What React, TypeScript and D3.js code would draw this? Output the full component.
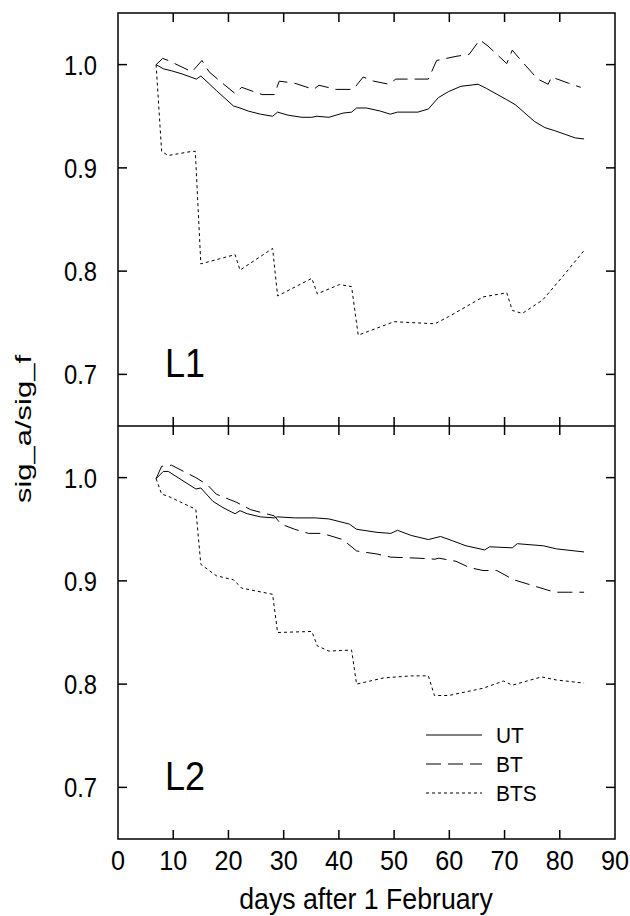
import React from "react";
import * as d3 from "d3";

type P = [number, number];
const l1UT: P[] = [[6.9,1.0],[8.2,0.996],[9.7,0.994],[11.6,0.991],[14.2,0.986],[15,0.989],[17.8,0.975],[20.9,0.960],[22.1,0.958],[23.6,0.955],[25.8,0.952],[28,0.950],[28.9,0.954],[30.8,0.951],[33.3,0.949],[35.1,0.949],[36,0.950],[38.2,0.949],[40.7,0.953],[42.3,0.954],[43.2,0.958],[45,0.958],[47.5,0.955],[49.3,0.952],[50.6,0.954],[54.3,0.954],[56.2,0.957],[58,0.968],[59.9,0.974],[62.1,0.979],[65.2,0.981],[66.7,0.977],[70.4,0.966],[72,0.961],[75.4,0.945],[77.3,0.939],[79.1,0.936],[82.8,0.929],[84.4,0.928]];
const l1BT: P[] = [[6.9,1.0],[8.1,1.006],[9.1,1.004],[13.4,0.993],[15.2,1.004],[16.5,0.993],[18.7,0.983],[21.2,0.972],[22.4,0.978],[26.1,0.971],[28.3,0.971],[29.2,0.984],[32,0.982],[35.4,0.976],[36.4,0.980],[39.5,0.976],[42.6,0.976],[44.4,0.988],[46.3,0.984],[49.1,0.981],[50.3,0.986],[52.5,0.986],[56.2,0.986],[57.7,1.004],[61.2,1.008],[63.6,1.010],[65.5,1.024],[67,1.018],[70.4,1.001],[71.4,1.014],[73,1.004],[76,0.986],[77.9,0.981],[78.5,0.988],[81.6,0.982],[83.8,0.978]];
const l1BTS: P[] = [[6.9,1.0],[7.9,0.916],[9.1,0.912],[13.4,0.916],[14,0.916],[15,0.807],[21.2,0.816],[22.1,0.801],[28,0.822],[28.9,0.776],[35.1,0.793],[36.1,0.778],[40.1,0.787],[42.3,0.785],[43.5,0.738],[50,0.751],[57.4,0.749],[59.9,0.756],[66.1,0.775],[70.4,0.779],[71.4,0.762],[73.2,0.759],[76.9,0.772],[80.4,0.794],[84.4,0.820]];
const l2UT: P[] = [[6.9,0.999],[8.2,1.006],[9.1,1.006],[14.1,0.989],[15,0.990],[17.2,0.977],[19,0.971],[21.2,0.965],[22.1,0.968],[23.4,0.965],[25.8,0.962],[28.3,0.961],[28.9,0.962],[32,0.961],[35.7,0.961],[38.2,0.960],[41.9,0.955],[43.2,0.950],[46.9,0.947],[49.4,0.946],[50.6,0.949],[53.1,0.944],[56.2,0.940],[58.4,0.943],[60.5,0.939],[63,0.934],[66.4,0.930],[67.3,0.933],[71.4,0.932],[72.3,0.936],[77,0.934],[79.4,0.931],[84.4,0.928]];
const l2BT: P[] = [[6.9,0.999],[7.9,1.011],[9.7,1.012],[14.1,1.0],[16.2,0.993],[17.8,0.984],[21.5,0.976],[24,0.969],[26.1,0.966],[28.3,0.963],[29.5,0.955],[32,0.950],[34.5,0.946],[37,0.946],[40.7,0.940],[43.2,0.929],[46.9,0.926],[49.4,0.923],[54.3,0.922],[57.4,0.921],[58.1,0.922],[61.2,0.919],[63.6,0.913],[66.1,0.910],[68.6,0.910],[71.7,0.901],[75.4,0.895],[79.1,0.889],[81.6,0.889],[84.4,0.889]];
const l2BTS: P[] = [[6.9,0.999],[7.9,0.984],[9.1,0.982],[13.8,0.970],[14.1,0.969],[15,0.916],[17.8,0.905],[20.9,0.901],[22.4,0.893],[28,0.887],[28.9,0.850],[35.1,0.851],[36.1,0.837],[38.2,0.832],[42.3,0.833],[43.2,0.800],[48.1,0.806],[53.1,0.808],[56.2,0.808],[57.3,0.789],[59.9,0.789],[66.1,0.796],[69.8,0.803],[71.4,0.799],[76.7,0.807],[79.4,0.804],[84.4,0.801]];

const xTicks = [0,10,20,30,40,50,60,70,80,90];
const yTicks = [0.7,0.8,0.9,1.0];
const seriesNames = ["UT","BT","BTS"];
const dashes = ["none","15,7","3,3"];

const X0 = 118, X1 = 615, Y0 = 13, YM = 426, Y1 = 839;
const x = d3.scaleLinear().domain([0,90]).range([X0,X1]);
const yTop = d3.scaleLinear().domain([0.65,1.05]).range([YM,Y0]);
const yBot = d3.scaleLinear().domain([0.65,1.05]).range([Y1,YM]);
const font = "Liberation Sans, Arial, sans-serif";

function T({ x, y, s, size, anchor = "start", sx = 0.88 }: { x: number; y: number; s: string; size: number; anchor?: string; sx?: number }) {
  return (
    <text transform={`translate(${x},${y}) scale(${sx},1)`} textAnchor={anchor as any} fontSize={size} fontFamily={font}>{s}</text>
  );
}

function Panel({ y, data, label }: { y: d3.ScaleLinear<number, number>; data: P[][]; label: string }) {
  const line = d3.line<P>().x(d => x(d[0])).y(d => y(d[1]));
  const [y1, y0] = y.range();
  const tl = 9;
  return (
    <g>
      {xTicks.slice(1, -1).map(t => (
        <g key={t}>
          <line x1={x(t)} x2={x(t)} y1={y0} y2={y0 + tl} stroke="#000" strokeWidth={1.5} />
          <line x1={x(t)} x2={x(t)} y1={y1} y2={y1 - tl} stroke="#000" strokeWidth={1.5} />
        </g>
      ))}
      {yTicks.map(t => (
        <g key={t}>
          <line x1={X0} x2={X0 + tl} y1={y(t)} y2={y(t)} stroke="#000" strokeWidth={1.5} />
          <line x1={X1} x2={X1 - tl} y1={y(t)} y2={y(t)} stroke="#000" strokeWidth={1.5} />
          <T x={97} y={y(t) + 10} s={t.toFixed(1)} size={28} anchor="end" sx={0.85} />
        </g>
      ))}
      {data.map((d, i) => (
        <path key={i} d={line(d) || ""} fill="none" stroke="#000" strokeWidth={1} strokeDasharray={dashes[i]} />
      ))}
      <T x={165} y={y(0.7) + 3} s={label} size={40} sx={0.9} />
    </g>
  );
}

export default function App() {
  return (
    <svg width={630} height={916} style={{ position: "absolute", left: 0, top: 0 }}>
      <rect x={X0} y={Y0} width={X1 - X0} height={Y1 - Y0} fill="none" stroke="#000" strokeWidth={1.5} />
      <line x1={X0} x2={X1} y1={YM} y2={YM} stroke="#000" strokeWidth={1.5} />
      <Panel y={yTop} data={[l1UT, l1BT, l1BTS]} label="L1" />
      <Panel y={yBot} data={[l2UT, l2BT, l2BTS]} label="L2" />
      {xTicks.map(t => (
        <T key={t} x={x(t)} y={870} s={String(t)} size={28} anchor="middle" sx={0.9} />
      ))}
      <T x={366} y={909} s="days after 1 February" size={29} anchor="middle" sx={0.92} />
      <g transform="translate(31,429) rotate(-90)">
        <text textAnchor="middle" fontSize={22} fontFamily={font} textLength={148} lengthAdjust="spacingAndGlyphs">sig_a/sig_f</text>
      </g>
      {seriesNames.map((n, i) => (
        <g key={n}>
          <line x1={426} x2={482} y1={735 + i * 29} y2={735 + i * 29} stroke="#000" strokeWidth={1} strokeDasharray={dashes[i]} />
          <T x={496} y={735 + i * 29 + 8} s={n} size={22} sx={0.95} />
        </g>
      ))}
    </svg>
  );
}
